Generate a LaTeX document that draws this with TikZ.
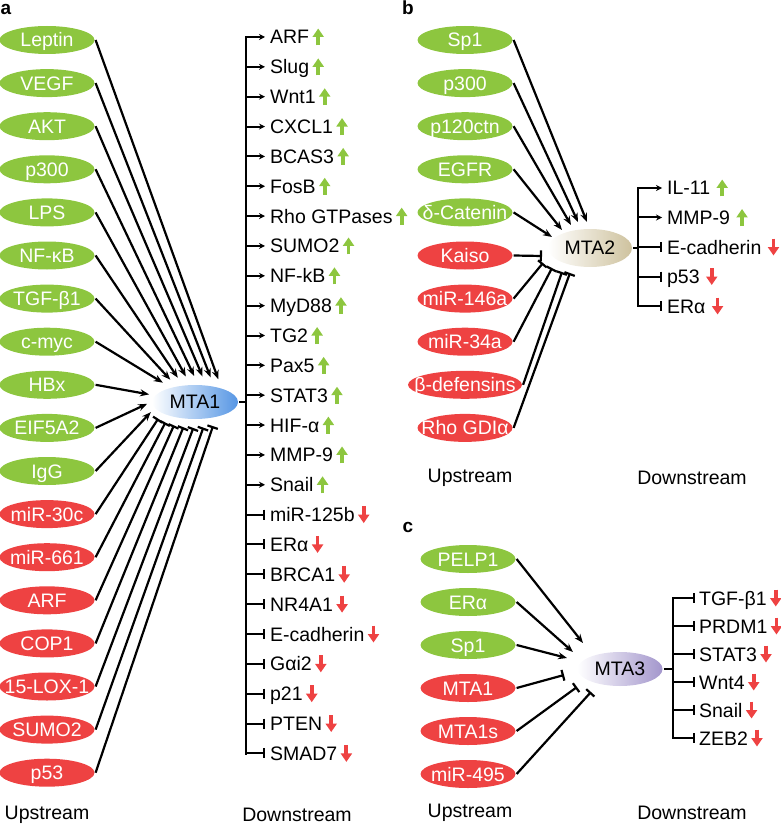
\documentclass[tikz,border=0pt]{standalone}
\usepackage{fontspec}
\setmainfont{Liberation Sans}
\usetikzlibrary{arrows.meta, calc, positioning, shapes.geometric}

\definecolor{upgreen}{RGB}{141,198,63}
\definecolor{downred}{RGB}{238,66,66}
\definecolor{mtablue}{RGB}{86,150,228}
\definecolor{mtasand}{RGB}{206,194,158}
\definecolor{mtalilac}{RGB}{163,150,204}

\begin{document}
\begin{tikzpicture}[x=1pt,y=1pt,line width=2.2pt,
                    font=\fontsize{19.5}{22}\selectfont,
                    act/.style={-{Stealth[length=9pt,width=7pt]}},
                    inh/.style={-{Bar[width=11pt]}},
                    small act/.style={-{Stealth[length=6pt,width=6pt]},line width=2pt},
                    small inh/.style={-{Bar[width=10pt]},line width=2pt},
                    reg node/.style={ellipse,minimum width=95pt,minimum height=28pt,
                      inner xsep=-14pt,inner ysep=0pt,text height=14pt,text depth=0pt,text=white},
                    up node/.style={reg node,fill=upgreen},
                    down node/.style={reg node,fill=downred},
                    mta node/.style={ellipse,minimum width=86pt,minimum height=35pt,inner sep=0pt},
                    gene/.style={anchor=west,inner xsep=4pt,inner ysep=0pt,text height=14pt,text depth=0pt},
                    up mark/.style={draw=upgreen,line width=3.8pt,-{Triangle[length=8.5pt,width=11pt]}},
                    down mark/.style={draw=downred,line width=3.8pt,-{Triangle[length=8.5pt,width=11pt]}},
                    panel/.style={font=\fontsize{19}{22}\selectfont\bfseries}]

  \useasboundingbox (0,0) rectangle (780,-826);

  % panel a
  \node[panel] (tag a) at (6,-9) {a};
  \node[mta node,minimum width=86pt,minimum height=34pt,left color=white,right color=mtablue] (MTA1) at (195,-402) {MTA1};

  \foreach \name/\ang [count=\i] in {Leptin/61,VEGF/71,AKT/81,p300/91,LPS/101,NF-κB/111,
      TGF-β1/121,c-myc/132,HBx/163,EIF5A2/184,IgG/203}
  {
    \node[up node] (aup\i) at (47,{-40-43.1*(\i-1)}) {\name};
    \draw[act] (aup\i.east) -- ($(MTA1)+(\ang:48pt and 26pt)$);
  }
  \foreach \name/\ang [count=\i from 12] in {miR-30c/220,miR-661/232,ARF/244,COP1/256,
      15-LOX-1/268,SUMO2/280,p53/292}
  {
    \node[down node] (adn\i) at (47,{-40-43.1*(\i-1)}) {\name};
    \draw[inh] (adn\i.east) -- ($(MTA1)+(\ang:48pt and 26pt)$);
  }

  \foreach \name [count=\i] in {ARF,Slug,Wnt1,CXCL1,BCAS3,FosB,Rho GTPases,SUMO2,NF-kB,
      MyD88,TG2,Pax5,STAT3,HIF-α,MMP-9,Snail}
  {
    \coordinate (ab\i) at (246,{-37-29.85*(\i-1)});
    \node[gene] (ad\i) at (265,{-37-29.85*(\i-1)}) {\name};
    \draw[small act] (ab\i) -- (ad\i.west);
    \draw[up mark] ([xshift=4pt,yshift=-8.5pt]ad\i.east) -- ++(0,17);
  }
  \foreach \name [count=\i from 17] in {miR-125b,ERα,BRCA1,NR4A1,E-cadherin,Gαi2,p21,PTEN,SMAD7}
  {
    \coordinate (ab\i) at (246,{-37-29.85*(\i-1)});
    \node[gene] (ad\i) at (265,{-37-29.85*(\i-1)}) {\name};
    \draw[small inh] (ab\i) -- (ad\i.west);
    \draw[down mark] ([xshift=4pt,yshift=8.5pt]ad\i.east) -- ++(0,-17);
  }
  \draw[line cap=rect] (ab1) -- (ab25);
  \draw (MTA1.east) -- (MTA1.east -| ab1);

  \node (a up) at (47,-815) {Upstream};
  \node (a down) at (297,-815) {Downstream};

  % panel b
  \node[panel] (tag b) at (408,-8) {b};
  \node[mta node,minimum width=84pt,minimum height=38pt,left color=white,right color=mtasand] (MTA2) at (590,-248) {MTA2};

  \foreach \name/\dx/\dy [count=\i] in {Sp1/-3/26,p300/-12/26,p120ctn/-19/23,EGFR/-28/18,δ-Catenin/-38/11}
  {
    \node[up node] (bup\i) at (465,{-40-43.1*(\i-1)}) {\name};
    \draw[act] (bup\i.east) -- ($(MTA2)+(\dx,\dy)$);
  }
  \foreach \name/\dx/\dy/\ew [count=\i from 6] in {Kaiso/-48/-8/95,miR-146a/-47/-15/95,
      miR-34a/-38/-20/95,β-defensins/-28/-24/114,Rho GDIα/-20/-25/95}
  {
    \node[down node,minimum width=\ew pt] (bdn\i) at (465,{-40-43.1*(\i-1)}) {\name};
    \draw[inh] (bdn\i.east) -- ($(MTA2)+(\dx,\dy)$);
  }

  \foreach \name [count=\i] in {IL-11,MMP-9}
  {
    \coordinate (bb\i) at (638,{-188-29.5*(\i-1)});
    \node[gene] (bd\i) at (662,{-188-29.5*(\i-1)}) {\name};
    \draw[small act] (bb\i) -- (bd\i.west);
    \draw[up mark] ([xshift=7pt,yshift=-8.5pt]bd\i.east) -- ++(0,17);
  }
  \foreach \name [count=\i from 3] in {E-cadherin,p53,ERα}
  {
    \coordinate (bb\i) at (638,{-188-29.5*(\i-1)});
    \node[gene] (bd\i) at (662,{-188-29.5*(\i-1)}) {\name};
    \draw[small inh] (bb\i) -- (bd\i.west);
    \draw[down mark] ([xshift=7pt,yshift=8.5pt]bd\i.east) -- ++(0,-17);
  }
  \draw[line cap=rect] (bb1) -- (bb5);
  \draw (MTA2.east) -- (MTA2.east -| bb1);

  \node (b up) at (470,-478) {Upstream};
  \node (b down) at (692,-478) {Downstream};

  % panel c
  \node[panel] (tag c) at (408,-527) {c};
  \node[mta node,minimum width=85pt,minimum height=34pt,left color=white,right color=mtalilac] (MTA3) at (620,-669) {MTA3};

  \foreach \name/\dx/\dy [count=\i] in {PELP1/-37/26,ERα/-47/17,Sp1/-53/11}
  {
    \node[up node] (cup\i) at (468,{-559-43*(\i-1)}) {\name};
    \draw[act] (cup\i.east) -- ($(MTA3)+(\dx,\dy)$);
  }
  \foreach \name/\dx/\dy [count=\i from 4] in {MTA1/-56/-6,MTA1s/-43/-18,miR-495/-29/-23}
  {
    \node[down node] (cdn\i) at (468,{-559-43*(\i-1)}) {\name};
    \draw[inh] (cdn\i.east) -- ($(MTA3)+(\dx,\dy)$);
  }

  \foreach \name [count=\i] in {TGF-β1,PRDM1,STAT3,Wnt4,Snail,ZEB2}
  {
    \coordinate (cb\i) at (673,{-598-28*(\i-1)});
    \node[gene,inner xsep=3pt] (cd\i) at (695,{-598-28*(\i-1)}) {\name};
    \draw[small inh] (cb\i) -- (cd\i.west);
    \draw[down mark] ([xshift=5pt,yshift=8.5pt]cd\i.east) -- ++(0,-17);
  }
  \draw[line cap=rect] (cb1) -- (cb6);
  \draw (MTA3.east) -- (MTA3.east -| cb1);

  \node (c up) at (470,-813) {Upstream};
  \node (c down) at (692,-813) {Downstream};

\end{tikzpicture}
\end{document}
